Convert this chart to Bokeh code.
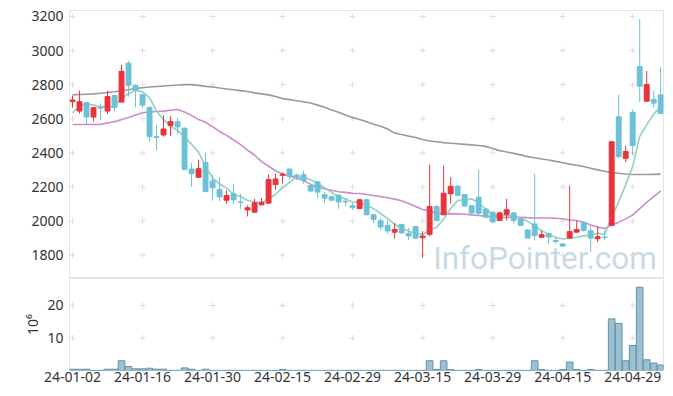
import pandas as pd
from bokeh.plotting import figure
from bokeh.layouts import column
from bokeh.models import Range1d, FixedTicker, Label, ColumnDataSource
from bokeh.embed import file_html
from bokeh.resources import INLINE

# ---------------- data ----------------
tick_idx = [0, 10, 20, 30, 40, 50, 60, 70, 80]
tick_labels = ["24-01-02", "24-01-16", "24-01-30", "24-02-15", "24-02-29",
               "24-03-15", "24-03-29", "24-04-15", "24-04-29"]
price_ticks = [1800, 2000, 2200, 2400, 2600, 2800, 3000, 3200]
vol_ticks = [10, 20]

opens = [2700, 2645, 2695, 2610, 2668, 2645, 2737, 2698, 2925, 2797,
         2741, 2667, 2495, 2505, 2560, 2583, 2545, 2305, 2257, 2343,
         2235, 2185, 2122, 2160, 2112, 2065, 2052, 2095, 2105, 2214,
         2268, 2305, 2270, 2272, 2208, 2230, 2155, 2143, 2152, 2116,
         2090, 2073, 2125, 2037, 2002, 1975, 1935, 1980, 1928, 1968,
         1902, 1922, 2085, 2037, 2160, 2205, 2155, 2090, 2140, 2070,
         2052, 2003, 2038, 2048, 2013, 1948, 1983, 1905, 1928, 1885,
         1866, 1900, 1935, 1993, 1943, 1897, 1906, 1975, 2612, 2368,
         2638, 2906, 2703, 2713, 2740]
highs = [2735, 2765, 2698, 2668, 2690, 2765, 2740, 2918, 2940, 2800,
         2742, 2670, 2565, 2620, 2615, 2605, 2548, 2340, 2360, 2402,
         2272, 2258, 2180, 2218, 2160, 2092, 2130, 2135, 2273, 2277,
         2285, 2307, 2278, 2295, 2210, 2232, 2170, 2145, 2155, 2134,
         2110, 2127, 2130, 2040, 2020, 2003, 1988, 1982, 1960, 1970,
         1940, 2330, 2095, 2326, 2257, 2207, 2157, 2093, 2300, 2075,
         2055, 2055, 2130, 2050, 2015, 1950, 2277, 1945, 1930, 1905,
         1870, 2208, 2003, 1997, 1975, 1968, 1945, 2467, 2740, 2443,
         2655, 3186, 2880, 2762, 2902]
lows = [2665, 2630, 2565, 2585, 2590, 2628, 2643, 2695, 2730, 2667,
        2663, 2467, 2415, 2495, 2500, 2510, 2300, 2200, 2252, 2170,
        2120, 2118, 2102, 2100, 2072, 2027, 2050, 2093, 2100, 2185,
        2220, 2242, 2240, 2218, 2172, 2137, 2105, 2120, 2072, 2090,
        2065, 2070, 2033, 1988, 1945, 1925, 1897, 1928, 1887, 1897,
        1785, 1910, 1998, 2033, 2102, 2148, 2085, 2032, 2032, 2018,
        1993, 2000, 2003, 1985, 1970, 1897, 1887, 1900, 1867, 1867,
        1848, 1897, 1932, 1938, 1818, 1876, 1887, 1970, 2368, 2345,
        2388, 2697, 2698, 2664, 2628]
closes = [2710, 2700, 2610, 2665, 2662, 2730, 2667, 2878, 2796, 2767,
          2680, 2496, 2490, 2540, 2583, 2552, 2302, 2278, 2307, 2173,
          2195, 2142, 2150, 2125, 2108, 2078, 2107, 2110, 2243, 2247,
          2275, 2263, 2260, 2238, 2176, 2170, 2134, 2122, 2112, 2112,
          2078, 2125, 2037, 2010, 1965, 1942, 1950, 1930, 1912, 1900,
          1912, 2085, 2003, 2163, 2204, 2150, 2088, 2047, 2046, 2023,
          1995, 2048, 2066, 2003, 1975, 1900, 1915, 1920, 1906, 1880,
          1853, 1938, 1950, 1945, 1900, 1908, 1903, 2465, 2378, 2408,
          2443, 2791, 2801, 2692, 2630]
# volume in millions of shares
volumes = [0.4, 0.4, 0.4, 0.05, 0.05, 0.4, 0.4, 3.0, 1.2, 0.5,
           0.5, 0.7, 0.4, 0.4, 0.05, 0.05, 0.8, 0.4, 0.05, 0.4,
           0.05, 0.05, 0.05, 0.05, 0.05, 0.05, 0.05, 0.05, 0.05, 0.05,
           0.3, 0.05, 0.05, 0.05, 0.05, 0.05, 0.05, 0.05, 0.05, 0.05,
           0.05, 0.05, 0.05, 0.05, 0.05, 0.05, 0.05, 0.05, 0.05, 0.05,
           0.05, 3.0, 0.3, 3.0, 0.3, 0.05, 0.05, 0.05, 0.3, 0.05,
           0.05, 0.05, 0.05, 0.05, 0.05, 0.05, 3.0, 0.3, 0.05, 0.05,
           0.3, 2.6, 0.3, 0.05, 0.3, 0.05, 0.05, 15.9, 14.5, 3.0,
           7.7, 25.6, 3.3, 2.3, 1.7]
# closes of the last sessions before the window (for the 5-day average)
prior_closes = [2515, 2535, 2700, 2715]
# 20-day average for the first sessions
ma20_lead = [2566, 2566, 2566, 2566, 2567, 2575, 2583, 2595, 2608, 2622,
             2635, 2640, 2643, 2645, 2650, 2654, 2640, 2620, 2595]
# 60-day average
ma60 = [2740, 2742, 2744, 2746, 2750, 2754, 2758, 2764, 2770, 2778,
        2782, 2786, 2789, 2792, 2795, 2798, 2800, 2800, 2796, 2790,
        2786, 2780, 2775, 2770, 2765, 2760, 2752, 2746, 2740, 2730,
        2718, 2712, 2706, 2700, 2692, 2680, 2668, 2652, 2638, 2622,
        2608, 2596, 2582, 2568, 2556, 2540, 2516, 2508, 2498, 2490,
        2478, 2470, 2465, 2460, 2456, 2453, 2450, 2447, 2443, 2438,
        2425, 2413, 2405, 2397, 2388, 2378, 2371, 2364, 2358, 2350,
        2342, 2334, 2327, 2320, 2310, 2300, 2292, 2285, 2280, 2276,
        2273, 2273, 2273, 2274, 2275]

# ---------------- derived ----------------
n = len(closes)
idx = list(range(n))
UP, DOWN = "#e8333b", "#6cc1d6"
colors = [UP if c >= o else DOWN for o, c in zip(opens, closes)]
tops = [max(o, c) for o, c in zip(opens, closes)]
bots = [min(o, c) for o, c in zip(opens, closes)]
src = ColumnDataSource(dict(x=idx, o=opens, h=highs, l=lows, c=closes,
                            top=tops, bot=bots, color=colors, v=volumes))

ext = pd.Series(prior_closes + closes, dtype=float)
ma5 = list(ext.rolling(5).mean().iloc[len(prior_closes):])
ma20_calc = pd.Series(closes, dtype=float).rolling(20).mean()
ma20 = ma20_lead + list(ma20_calc.iloc[len(ma20_lead):])

FONT = "Noto Sans"
LABEL_COLOR = "#333333"
FRAME_COLOR = "#e4e4e4"
W = 665


def style_axis(ax, standoff):
    ax.axis_line_color = None
    ax.major_tick_line_color = None
    ax.minor_tick_line_color = None
    ax.major_tick_out = 0
    ax.major_tick_in = 0
    ax.minor_tick_out = 0
    ax.minor_tick_in = 0
    ax.major_label_text_font = FONT
    ax.major_label_text_font_size = "14px"
    ax.major_label_text_color = LABEL_COLOR
    ax.major_label_standoff = standoff


xr = Range1d(-0.43, 84.4)

# ---------------- price pane ----------------
p1 = figure(width=W, height=278, x_range=xr, y_range=Range1d(1663, 3235),
            output_backend="svg", toolbar_location=None,
            min_border_left=69, min_border_right=2, min_border_top=10,
            min_border_bottom=0)
p1.xaxis.visible = False
p1.xgrid.grid_line_color = None
p1.ygrid.grid_line_color = None
p1.outline_line_color = FRAME_COLOR
p1.yaxis.ticker = FixedTicker(ticks=price_ticks)
style_axis(p1.yaxis[0], 6)

gx = [t for t in tick_idx for _ in price_ticks]
gy = [v for _ in tick_idx for v in price_ticks]
p1.scatter(gx, gy, marker="cross", size=6, line_color="#dcdcdc", line_width=1)

# watermark (placed in data space, lower right of the price pane)
wm = Label(x=51.5, y=1783, text="InfoPointer.com",
           text_font="Roboto", text_font_size="31.5px",
           text_color="#bcd3e0", text_alpha=0.85, text_baseline="alphabetic",
           level="underlay")
p1.add_layout(wm)

p1.line(idx, ma60, line_color="#9a9a9a", line_width=1.6)
p1.line(idx, ma20, line_color="#cc8ccb", line_width=1.6)
p1.line(idx, ma5, line_color="#93cfc2", line_width=1.6)

p1.segment(x0="x", y0="h", x1="x", y1="l", line_color="color", line_width=1, source=src)
p1.vbar(x="x", top="top", bottom="bot", width=0.7, fill_color="color",
        line_color="color", line_width=1, source=src)

# ---------------- volume pane ----------------
p2 = figure(width=W, height=106, x_range=xr, y_range=Range1d(0, 28.3),
            output_backend="svg", toolbar_location=None,
            min_border_left=69, min_border_right=2, min_border_top=0,
            min_border_bottom=0)
p2.xgrid.grid_line_color = None
p2.ygrid.grid_line_color = None
p2.outline_line_color = FRAME_COLOR

p2.xaxis.ticker = FixedTicker(ticks=tick_idx)
p2.xaxis.major_label_overrides = {t: lab for t, lab in zip(tick_idx, tick_labels)}
style_axis(p2.xaxis[0], 1)

p2.yaxis.ticker = FixedTicker(ticks=vol_ticks)
style_axis(p2.yaxis[0], 6)
p2.yaxis.axis_label = "10\u2076"
p2.yaxis.axis_label_text_font = FONT
p2.yaxis.axis_label_text_font_style = "normal"
p2.yaxis.axis_label_text_font_size = "14px"
p2.yaxis.axis_label_text_color = LABEL_COLOR
p2.yaxis.axis_label_standoff = 2

vx = [t for t in tick_idx for _ in vol_ticks]
vy = [v for _ in tick_idx for v in vol_ticks]
p2.scatter(vx, vy, marker="cross", size=6, line_color="#dcdcdc", line_width=1)

p2.vbar(x="x", top="v", bottom=0, width=0.95, fill_color="#9cc0d0",
        line_color="#5f93ab", line_width=1, source=src)

layout = column(p1, p2, spacing=0)
open("out.html", "w").write(file_html(layout, INLINE))
